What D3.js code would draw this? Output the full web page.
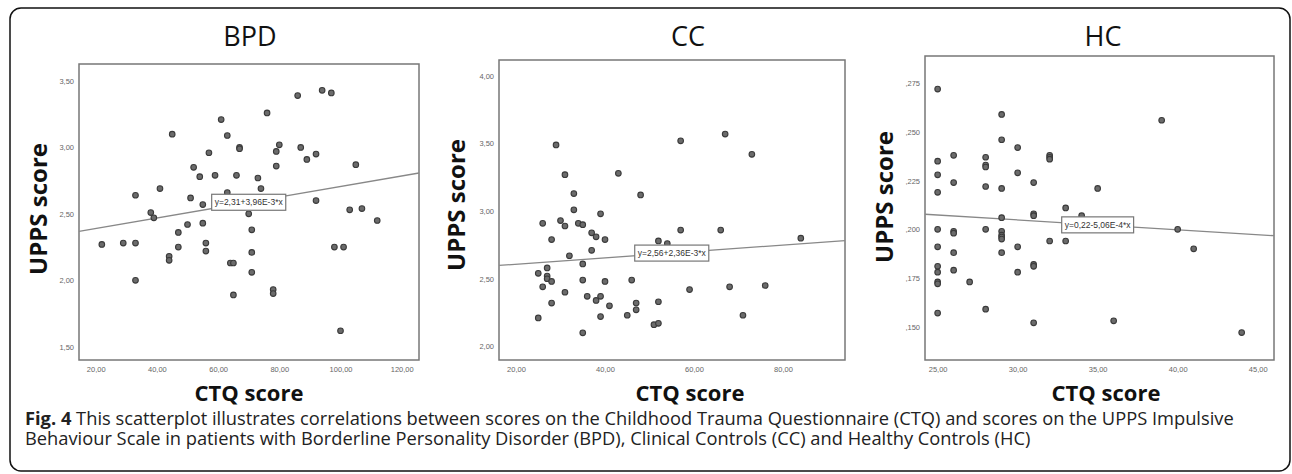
<!DOCTYPE html>
<html>
<head>
<meta charset="utf-8">
<style>
  body { margin: 0; background: #fff; }
  svg { display: block; }
  .tick text { font-family: "Liberation Sans", Arial, sans-serif; font-size: 7.5px; fill: #666; }
  .frame { fill: none; stroke: #777; stroke-width: 1.5; }
  .fit { fill: none; stroke: #888; stroke-width: 1.3; }
  .dot { fill: #6b6b6b; stroke: #3a3a3a; stroke-width: 1.1; }
  .title { font-family: "Open Sans", sans-serif; font-size: 27px; fill: #111; }
  .ylab { font-family: "Open Sans", sans-serif; font-weight: bold; font-size: 24px; fill: #111; }
  .xlab { font-family: "Open Sans", sans-serif; font-weight: bold; font-size: 22px; fill: #111; }
  .eq { font-family: "Liberation Sans", Arial, sans-serif; font-size: 8.5px; fill: #333; }
  .caption { font-family: "Open Sans", sans-serif; font-size: 18.3px; fill: #222; }
</style>
</head>
<body>
<svg id="chart" width="1292" height="474"></svg>
<script src="https://cdn.jsdelivr.net/npm/d3@7"></script>
<script>
// ---- data ----
const panelNames = ["BPD", "CC", "HC"]

// BPD: CTQ score vs UPPS score
const bpdCtq = [86, 94, 97, 76, 61, 45, 63, 80, 87, 67, 67, 79, 57, 92, 89, 52, 79, 105, 54, 59,
  66, 73, 74, 41, 33, 51, 63, 92, 55, 38, 39, 70, 103, 107, 112, 50, 55, 47, 71, 22,
  29, 33, 56, 44, 44, 47, 56, 71, 98, 101, 64, 65, 71, 33, 65, 78, 78, 100]
const bpdUpps = [3.39, 3.43, 3.41, 3.26, 3.21, 3.10, 3.09, 3.02, 3.00, 3.00, 2.99, 2.97, 2.96, 2.95, 2.91, 2.85, 2.86, 2.87, 2.78, 2.79,
  2.79, 2.77, 2.69, 2.69, 2.64, 2.62, 2.66, 2.60, 2.57, 2.51, 2.47, 2.50, 2.53, 2.54, 2.45, 2.42, 2.43, 2.36, 2.38, 2.27,
  2.28, 2.28, 2.28, 2.18, 2.15, 2.25, 2.22, 2.21, 2.25, 2.25, 2.13, 2.13, 2.06, 2.00, 1.89, 1.93, 1.90, 1.62]

// CC
const ccCtq = [29, 31, 33, 43, 48, 57, 67, 73, 33, 39, 26, 30, 31, 34, 35, 37, 38, 40, 28, 37,
  32, 35, 25, 27, 27, 27, 28, 26, 35, 40, 46, 31, 28, 36, 38, 39, 41, 25, 39, 35,
  45, 47, 47, 51, 52, 52, 59, 52, 54, 57, 66, 68, 71, 76, 84]
const ccUpps = [3.49, 3.27, 3.13, 3.28, 3.12, 3.52, 3.57, 3.42, 3.01, 2.98, 2.91, 2.93, 2.89, 2.91, 2.90, 2.84, 2.81, 2.79, 2.79, 2.71,
  2.67, 2.61, 2.54, 2.58, 2.52, 2.50, 2.48, 2.44, 2.49, 2.48, 2.49, 2.40, 2.32, 2.37, 2.34, 2.37, 2.30, 2.21, 2.22, 2.10,
  2.23, 2.32, 2.27, 2.16, 2.17, 2.33, 2.42, 2.78, 2.76, 2.86, 2.86, 2.44, 2.23, 2.45, 2.80]

// HC
const hcCtq = [25, 29, 39, 29, 30, 26, 25, 28, 28, 28, 32, 32, 32, 25, 30, 26, 31, 28, 29, 35,
  25, 33, 31, 31, 29, 25, 26, 26, 28, 29, 29, 29, 29, 40, 32, 33, 25, 30, 41, 26,
  29, 25, 25, 26, 30, 31, 31, 25, 25, 27, 25, 28, 31, 36, 44, 34]
const hcUpps = [.272, .259, .256, .246, .242, .238, .235, .237, .233, .232, .238, .237, .236, .228, .229, .224, .224, .222, .221, .221,
  .219, .211, .208, .207, .206, .200, .199, .198, .200, .199, .197, .196, .195, .200, .194, .194, .191, .191, .190, .188,
  .188, .181, .178, .179, .178, .182, .181, .173, .172, .173, .157, .159, .152, .153, .147, .207]

// fitted lines: intercept, slope, and where the label sits (x value)
const fitIntercepts = [2.31, 2.56, 0.22]
const fitSlopes = [3.96e-3, 2.36e-3, -5.06e-4]
const fitLabels = ["y=2,31+3,96E-3*x", "y=2,56+2,36E-3*x", "y=0,22-5,06E-4*x"]
const fitLabelAt = [70, 55, 35]

// tick labels
const bpdXTicks = [20, 40, 60, 80, 100, 120]
const bpdYTicks = [1.5, 2.0, 2.5, 3.0, 3.5]
const ccXTicks = [20, 40, 60, 80]
const ccYTicks = [2.0, 2.5, 3.0, 3.5, 4.0]
const hcXTicks = [25, 30, 35, 40, 45]
const hcYTicks = [.150, .175, .200, .225, .250, .275]

const xTitle = "CTQ score"
const yTitle = "UPPS score"
const captionBold = "Fig. 4"
const captionLine1 = " This scatterplot illustrates correlations between scores on the Childhood Trauma Questionnaire (CTQ) and scores on the UPPS Impulsive"
const captionLine2 = "Behaviour Scale in patients with Borderline Personality Disorder (BPD), Clinical Controls (CC) and Healthy Controls (HC)"

// ---- layout ----
const svg = d3.select("#chart")

svg.append("rect")
  .attr("x", 10).attr("y", 8)
  .attr("width", 1280).attr("height", 463)
  .attr("rx", 11)
  .attr("fill", "none").attr("stroke", "#111").attr("stroke-width", 1.5)

let commaFmt = f => (d => d3.format(f)(d).replace(".", ","))
let hcFmt = d => d3.format(".3f")(d).replace("0.", ",")

let panels = [
  { x: bpdCtq, y: bpdUpps, xt: bpdXTicks, yt: bpdYTicks,
    box: [79, 419, 64, 360], xd: [14.54, 125.65], yd: [1.40, 3.628],
    xf: commaFmt(".2f"), yf: commaFmt(".2f"),
    titleX: 250, ylabX: 47, ylabY: 209, xlabX: 249 },
  { x: ccCtq, y: ccUpps, xt: ccXTicks, yt: ccYTicks,
    box: [499, 845, 60, 360], xd: [16.18, 93.93], yd: [1.899, 4.118],
    xf: commaFmt(".2f"), yf: commaFmt(".2f"),
    titleX: 688, ylabX: 465, ylabY: 205, xlabX: 690 },
  { x: hcCtq, y: hcUpps, xt: hcXTicks, yt: hcYTicks,
    box: [925, 1274, 56, 360], xd: [24.21, 46.02], yd: [.1329, .289],
    xf: commaFmt(".2f"), yf: hcFmt,
    titleX: 1103, ylabX: 893, ylabY: 197, xlabX: 1106 }
]

panels.forEach((p, i) => {
  let [l, r, t, b] = p.box
  let xScale = d3.scaleLinear().domain(p.xd).range([l, r])
  let yScale = d3.scaleLinear().domain(p.yd).range([b, t])
  let g = svg.append("g")

  // axes (labels only, no tick marks)
  let xa = g.append("g")
    .attr("transform", "translate(0," + b + ")")
    .call(d3.axisBottom(xScale).tickValues(p.xt).tickFormat(p.xf).tickSize(0).tickPadding(7))
  xa.select(".domain").remove()

  let ya = g.append("g")
    .attr("transform", "translate(" + l + ",0)")
    .call(d3.axisLeft(yScale).tickValues(p.yt).tickFormat(p.yf).tickSize(0).tickPadding(5))
  ya.select(".domain").remove()

  // plot frame
  g.append("rect").attr("class", "frame")
    .attr("x", l).attr("y", t).attr("width", r - l).attr("height", b - t)

  // fit line
  let fit = x => fitIntercepts[i] + fitSlopes[i] * x
  g.append("line").attr("class", "fit")
    .attr("x1", xScale(p.xd[0])).attr("y1", yScale(fit(p.xd[0])))
    .attr("x2", xScale(p.xd[1])).attr("y2", yScale(fit(p.xd[1])))

  // points
  g.selectAll("circle")
    .data(p.x.map((v, k) => ({ ctq: v, upps: p.y[k] })))
    .join("circle")
    .attr("class", "dot")
    .attr("cx", d => xScale(d.ctq))
    .attr("cy", d => yScale(d.upps))
    .attr("r", 2.8)

  // equation label
  let lx = xScale(fitLabelAt[i]), ly = yScale(fit(fitLabelAt[i]))
  let lg = g.append("g")
  let box = lg.append("rect")
  let txt = lg.append("text").attr("class", "eq")
    .attr("x", lx).attr("y", ly + 3)
    .attr("text-anchor", "middle")
    .text(fitLabels[i])
  let w = txt.node().getComputedTextLength() + 6
  box.attr("x", lx - w / 2).attr("y", ly - 8).attr("width", w).attr("height", 16)
    .attr("fill", "#fff").attr("stroke", "#777").attr("stroke-width", 1.2)

  // titles
  svg.append("text").attr("class", "title")
    .attr("x", p.titleX).attr("y", 46).attr("text-anchor", "middle")
    .text(panelNames[i])

  svg.append("text").attr("class", "ylab")
    .attr("transform", "translate(" + p.ylabX + "," + p.ylabY + ") rotate(-90)")
    .attr("text-anchor", "middle")
    .text(yTitle)

  svg.append("text").attr("class", "xlab")
    .attr("x", p.xlabX).attr("y", 401).attr("text-anchor", "middle")
    .text(xTitle)
})

// caption: bold figure number followed by the sentence
let cap = svg.append("text").attr("class", "caption").attr("x", 25).attr("y", 425)
cap.append("tspan").attr("font-weight", "bold").text(captionBold)
cap.append("tspan").text(captionLine1)
svg.append("text").attr("class", "caption").attr("x", 25).attr("y", 445).text(captionLine2)
</script>
</body>
</html>
